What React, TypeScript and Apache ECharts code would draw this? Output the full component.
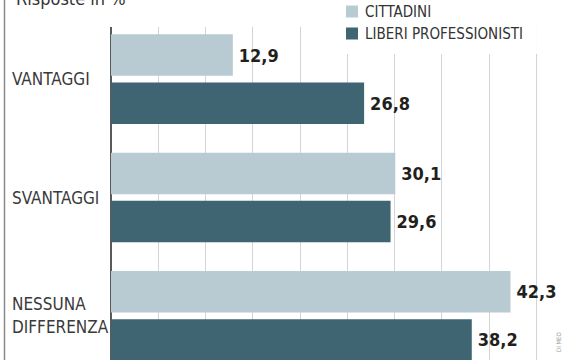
import React, { useEffect, useRef } from "react";
import * as echarts from "echarts";

const categories = ["VANTAGGI", "SVANTAGGI", "NESSUNA\nDIFFERENZA"];
const seriesNames = ["CITTADINI", "LIBERI PROFESSIONISTI"];
const cittadini = [12.9, 30.1, 42.3];
const liberiProfessionisti = [26.8, 29.6, 38.2];
const xTicks = { min: 0, max: 45, interval: 5 };

const NARROW = "'Liberation Sans Narrow', 'DejaVu Sans Condensed', 'Liberation Sans', sans-serif";

export default function App() {
  const ref = useRef<HTMLDivElement>(null);
  useEffect(() => {
    document.body.style.margin = "0";
    const chart = echarts.init(ref.current!, null, { renderer: "svg" });
    const fmt = (p: any) => String(p.value).replace(".", ",");
    const labelStyle = {
      show: true,
      position: "right",
      distance: 6,
      formatter: fmt,
      fontFamily: NARROW,
      fontWeight: "bold",
      fontSize: 18,
      color: "#231f1c",
    };
    chart.setOption({
      animation: false,
      backgroundColor: "#ffffff",
      grid: {
        left: 111,
        top: 20,
        width: 425,
        height: 355,
        containLabel: false,
        outerBoundsMode: "none",
      },
      legend: {
        orient: "vertical",
        left: 343,
        top: 2,
        itemWidth: 12,
        itemHeight: 12,
        itemGap: 7,
        padding: [2, 14, 13, 3],
        backgroundColor: "#ffffff",
        icon: "rect",
        data: seriesNames,
        textStyle: { fontFamily: NARROW, fontSize: 15, color: "#333333", padding: [0, 0, 0, 2] },
      },
      xAxis: {
        type: "value",
        min: xTicks.min,
        max: xTicks.max,
        interval: xTicks.interval,
        axisLabel: { show: false },
        axisLine: { show: false },
        axisTick: { show: false },
        splitLine: { show: true, lineStyle: { color: "#d2d4d6", width: 1 } },
      },
      yAxis: {
        type: "category",
        inverse: true,
        data: categories,
        axisLine: { show: true, lineStyle: { color: "#5a5a5a", width: 2 } },
        axisTick: { show: false },
        axisLabel: {
          align: "left",
          margin: 99,
          fontFamily: NARROW,
          fontSize: 17,
          lineHeight: 23,
          color: "#3a3a3a",
        },
      },
      series: [
        {
          name: seriesNames[0],
          type: "bar",
          data: cittadini,
          barWidth: 41.5,
          barGap: "16%",
          itemStyle: { color: "#b8cad2" },
          label: labelStyle,
        },
        {
          name: seriesNames[1],
          type: "bar",
          data: liberiProfessionisti,
          barWidth: 41.5,
          barGap: "16%",
          itemStyle: { color: "#3e6571" },
          label: labelStyle,
        },
      ],
      graphic: [
        {
          type: "rect",
          z: 3,
          shape: { x: 100, y: 0, width: 445, height: 27 },
          style: { fill: "#ffffff" },
        },
        {
          type: "line",
          z: 5,
          shape: { x1: 4.5, y1: 0, x2: 4.5, y2: 360 },
          style: { stroke: "#8a8a8a", lineWidth: 1.5 },
        },
        {
          type: "text",
          z: 5,
          x: 16,
          y: -11,
          style: {
            text: "Risposte in %",
            fontFamily: NARROW,
            fontSize: 18,
            fill: "#333333",
            verticalAlign: "top",
          },
        },
        {
          type: "text",
          z: 5,
          x: 558,
          y: 352,
          rotation: Math.PI / 2,
          style: {
            text: "DI MEO",
            fontFamily: NARROW,
            fontSize: 6,
            fill: "#9a9a9a",
            verticalAlign: "middle",
          },
        },
      ],
    });
    return () => chart.dispose();
  }, []);
  return <div ref={ref} style={{ width: 564, height: 360 }} />;
}
